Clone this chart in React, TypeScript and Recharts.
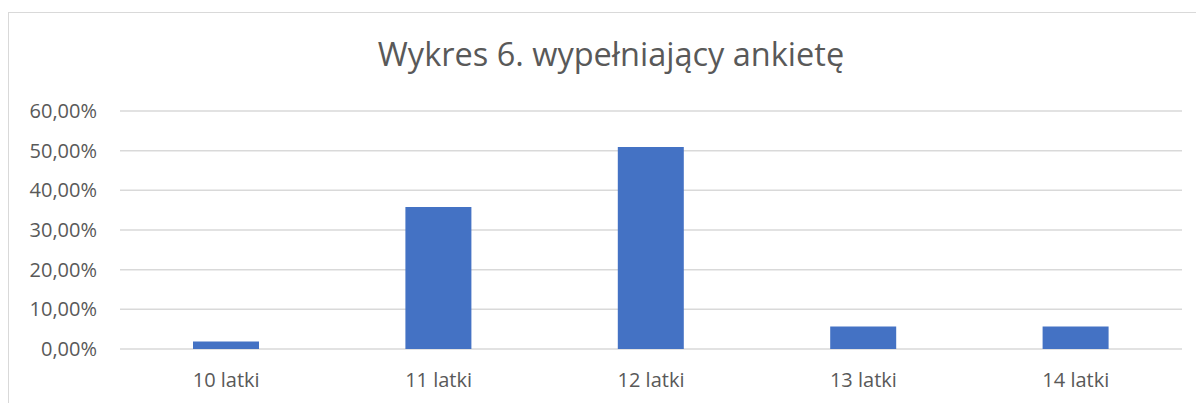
import { BarChart, Bar, XAxis, YAxis, CartesianGrid } from "recharts";

const categories = ["10 latki", "11 latki", "12 latki", "13 latki", "14 latki"];
const shares = [0.019, 0.358, 0.509, 0.057, 0.057];
const yTicks = [0, 0.1, 0.2, 0.3, 0.4, 0.5, 0.6];
const title = "Wykres 6. wypełniający ankietę";

const chartData = categories.map((name, i) => ({ name, value: shares[i] }));

const FONT = "'Open Sans', Lato, sans-serif";
const TEXT = "#595959";
const GRID = "#d9d9d9";

// Polish-style percent: 10,00%
const formatPct = (v: number) => (v * 100).toFixed(2).replace(".", ",") + "%";

export default function App() {
  return (
    <div
      style={{
        position: "absolute",
        left: 8,
        top: 12,
        width: 1188,
        height: 391,
        boxSizing: "border-box",
        borderLeft: `1px solid ${GRID}`,
        borderTop: `1px solid ${GRID}`,
        background: "#fff",
        fontFamily: FONT,
      }}
    >
      <div
        style={{
          position: "absolute",
          left: 602,
          top: 25,
          transform: "translateX(-50%)",
          whiteSpace: "nowrap",
          fontSize: 32.5,
          lineHeight: 1,
          color: TEXT,
        }}
      >
        {title}
      </div>
      <BarChart
        width={1187}
        height={390}
        data={chartData}
        margin={{ top: 98, right: 14, bottom: 0, left: 0 }}
      >
        <CartesianGrid horizontal vertical={false} stroke={GRID} strokeWidth={1.5} />
        <XAxis
          dataKey="name"
          height={54}
          axisLine={false}
          tickLine={false}
          tickSize={0}
          tickMargin={24}
          tick={{ fill: TEXT, fontSize: 20, fontFamily: FONT }}
        />
        <YAxis
          width={111}
          domain={[0, 0.6]}
          ticks={yTicks}
          tickFormatter={formatPct}
          axisLine={false}
          tickLine={false}
          tickSize={0}
          tickMargin={23}
          tick={{ fill: TEXT, fontSize: 20, fontFamily: FONT }}
        />
        <Bar dataKey="value" fill="#4472C4" barSize={66} isAnimationActive={false} />
      </BarChart>
    </div>
  );
}
